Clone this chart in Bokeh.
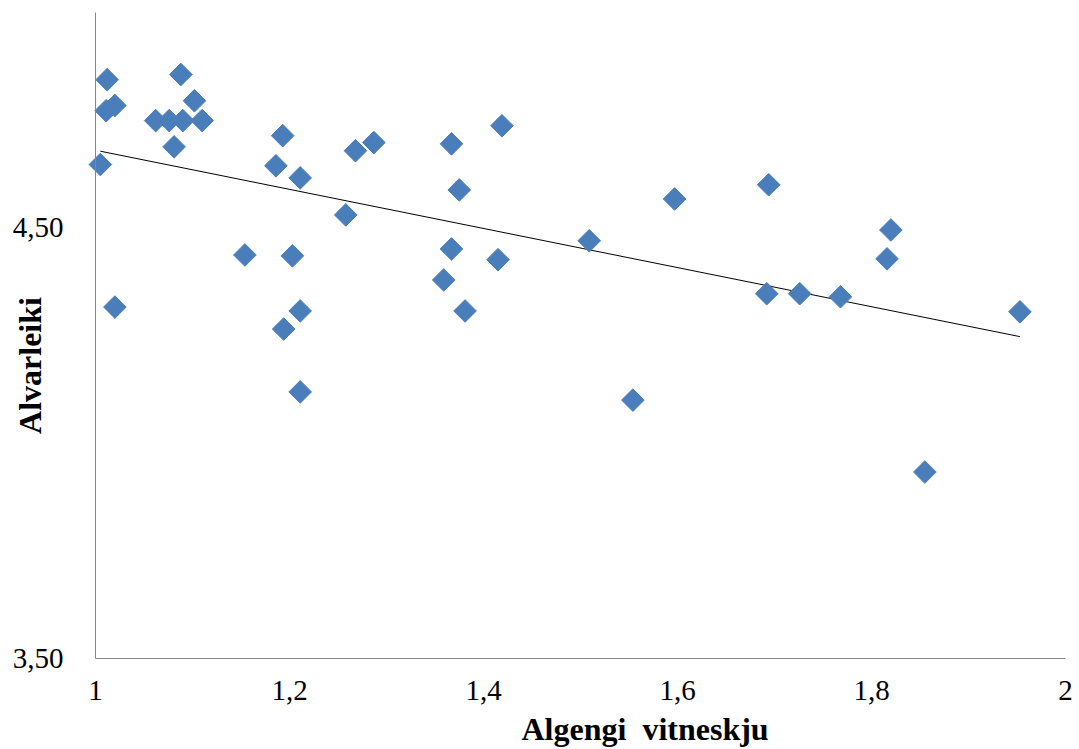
import numpy as np
from bokeh.plotting import figure
from bokeh.models import FixedTicker, CustomJSTickFormatter, Range1d, Label, ColumnDataSource
from bokeh.embed import file_html
from bokeh.resources import INLINE

algengi = [1.012, 1.011, 1.020, 1.005, 1.020, 1.062, 1.076, 1.090, 1.110, 1.088,
           1.102, 1.081, 1.193, 1.186, 1.211, 1.154, 1.203, 1.211, 1.194, 1.211,
           1.287, 1.268, 1.367, 1.419, 1.375, 1.597, 1.509, 1.367, 1.415, 1.359,
           1.381, 1.258, 1.694, 1.820, 1.816, 1.692, 1.726, 1.768, 1.953, 1.554,
           1.855]
alvarleiki = [4.844, 4.772, 4.784, 4.647, 4.316, 4.749, 4.749, 4.749, 4.749, 4.856,
              4.795, 4.688, 4.714, 4.644, 4.616, 4.437, 4.435, 4.307, 4.265, 4.119,
              4.698, 4.679, 4.695, 4.737, 4.588, 4.567, 4.470, 4.451, 4.426, 4.379,
              4.307, 4.530, 4.600, 4.495, 4.428, 4.347, 4.347, 4.340, 4.305, 4.100,
              3.933]
x_ticks = [1.0, 1.2, 1.4, 1.6, 1.8, 2.0]
y_ticks = [3.5, 4.5]
x_bounds = (1.0, 2.0)
y_bounds = (3.5, 5.0)
x_title = "Algengi\u00a0 vitneskju"
y_title = "Alvarleiki"

W, H = 1079, 749
# plot area in pixels (left, right, top, bottom) of the axes box
L, R, T, B = 95, 1065, 12, 658
sx = (R - L) / (x_bounds[1] - x_bounds[0])
sy = (B - T) / (y_bounds[1] - y_bounds[0])
xr = Range1d(x_bounds[0] - L / sx, x_bounds[1] + (W - R) / sx)
yr = Range1d(y_bounds[0] - (H - B) / sy, y_bounds[1] + T / sy)

p = figure(width=W, height=H, output_backend="svg", toolbar_location=None,
           x_range=xr, y_range=yr,
           min_border_left=0, min_border_right=0, min_border_top=0, min_border_bottom=0)
p.outline_line_color = None
p.xgrid.visible = False
p.ygrid.visible = False

font = "Liberation Serif"
for ax in (p.xaxis[0], p.yaxis[0]):
    ax.axis_line_color = "#868686"
    ax.axis_line_width = 1
    ax.major_tick_line_color = None
    ax.minor_tick_line_color = None
    ax.major_tick_in = 0
    ax.major_tick_out = 0
    ax.major_label_text_font = font
    ax.major_label_text_font_size = "29px"
    ax.major_label_text_color = "#000000"

p.xaxis.fixed_location = y_bounds[0]
p.yaxis.fixed_location = x_bounds[0]
p.xaxis.bounds = x_bounds
p.yaxis.bounds = y_bounds
p.xaxis.ticker = FixedTicker(ticks=x_ticks)
p.yaxis.ticker = FixedTicker(ticks=y_ticks)
p.xaxis.formatter = CustomJSTickFormatter(code="return (Math.abs(tick-Math.round(tick))<1e-9 ? String(Math.round(tick)) : tick.toFixed(1)).replace('.', ',');")
p.yaxis.formatter = CustomJSTickFormatter(code="return tick.toFixed(2).replace('.', ',');")
p.xaxis.major_label_standoff = 22
p.yaxis.major_label_standoff = 32

# trend line (least squares fit)
xs = np.array(algengi)
ys = np.array(alvarleiki)
b, a = np.polyfit(xs, ys, 1)
tx = np.array([xs.min(), xs.max()])
p.line(tx, a + b * tx, line_color="black", line_width=1)

src = ColumnDataSource(dict(x=algengi, y=alvarleiki))
p.scatter("x", "y", source=src, marker="square", angle=np.pi / 4, size=16,
          fill_color="#4A7EBB", line_color="#4A7EBB")

p.add_layout(Label(x=521, y=21, x_units="screen", y_units="screen",
                   text=x_title, text_font=font, text_font_style="bold",
                   text_font_size="32px", text_color="#000000",
                   text_align="left", text_baseline="middle"))
p.add_layout(Label(x=29, y=H - 365, x_units="screen", y_units="screen",
                   text=y_title, text_font=font, text_font_style="bold",
                   text_font_size="32px", text_color="#000000",
                   text_align="center", text_baseline="middle", angle=np.pi / 2))

open("out.html", "w").write(file_html(p, INLINE))
